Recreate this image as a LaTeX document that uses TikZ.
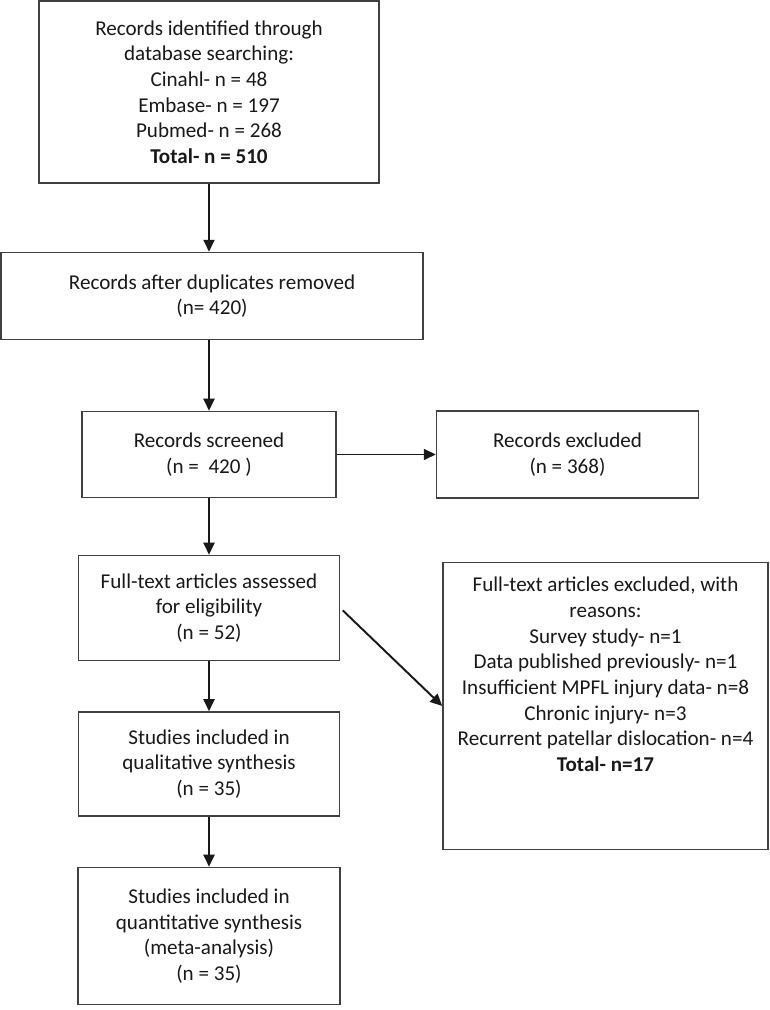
\documentclass[tikz,border=0pt]{standalone}
\usepackage{fontspec}
\setmainfont{Carlito}
\usetikzlibrary{positioning, arrows.meta}

\begin{document}
\begin{tikzpicture}[
        node distance=1cm,
        >={Triangle[length=0.24cm, width=0.22cm]},
        box/.style={rectangle, draw=black!75, line width=0.85pt, align=center, inner sep=2pt,
                    font=\fontsize{12}{14.6}\selectfont, text=black!90},
        link/.style={->, line width=1.1pt, draw=black!90}
    ]
    \useasboundingbox (0,0) rectangle (15.38,-20.2);

    % Identification
    \node[box, minimum width=6.8cm, minimum height=3.64cm] (ident) at (4.18,-1.84)
        {Records identified through\\database searching:\\Cinahl- n = 48\\Embase- n = 197\\Pubmed- n = 268\\\textbf{Total- n = 510}};

    % Screening
    \node[box, minimum width=8.44cm, minimum height=1.74cm] (dupl) [below=1.36cm of ident, xshift=0.06cm]
        {Records after duplicates removed\\(n= 420)};
    \node[box, minimum width=5.08cm, minimum height=1.72cm] (screen) [below=1.41cm of dupl, xshift=-0.06cm]
        {Records screened\\(n = \ 420 )};
    \node[box, minimum width=5.24cm, minimum height=1.74cm] (excl) [right=1.98cm of screen]
        {Records excluded\\(n = 368)};

    % Eligibility
    \node[box, minimum width=5.22cm, minimum height=2.1cm] (full) [below=1.13cm of screen]
        {Full-text articles assessed\\for eligibility\\(n = 52)};
    \node[box, minimum width=6.5cm, minimum height=5.74cm] (reasons) [right=2.04cm of full.north east, anchor=north west, yshift=-0.14cm] {};
    \node[align=center, inner sep=0pt, font=\fontsize{12}{14.6}\selectfont, text=black!90] (reasonstext) [below=0.3cm of reasons.north]
        {Full-text articles excluded, with\\reasons:\\Survey study- n=1\\Data published previously- n=1\\Insufficient MPFL injury data- n=8\\Chronic injury- n=3\\Recurrent patellar dislocation- n=4\\\textbf{Total- n=17}};

    % Included
    \node[box, minimum width=5.22cm, minimum height=2.08cm] (qual) [below=1.0cm of full]
        {Studies included in\\qualitative synthesis\\(n = 35)};
    \node[box, minimum width=5.24cm, minimum height=2.74cm] (quant) [below=1.0cm of qual]
        {Studies included in\\quantitative synthesis\\(meta-analysis)\\(n = 35)};

    % Connections
    \draw[link] (ident.south) -- (ident.south |- dupl.north);
    \draw[link] (screen.north |- dupl.south) -- (screen.north);
    \draw[link] (screen.east) -- (excl.west);
    \draw[link] (screen) -- (full);
    \draw[link, shorten <=2pt] (full.east) -- (reasons.west);
    \draw[link] (full) -- (qual);
    \draw[link] (qual) -- (quant);

\end{tikzpicture}
\end{document}
